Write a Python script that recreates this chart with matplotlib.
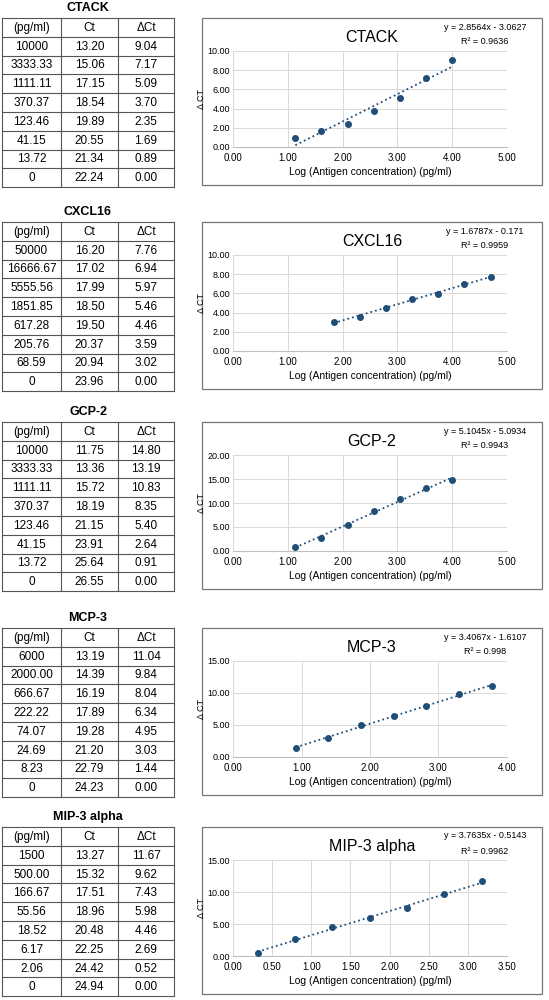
import numpy as np
import matplotlib
matplotlib.use("Agg")
import matplotlib.pyplot as plt
from matplotlib.patches import Rectangle

plt.rcParams['font.family'] = ['Liberation Sans Narrow', 'Liberation Sans', 'DejaVu Sans']

names = ["CTACK", "CXCL16", "GCP-2", "MCP-3", "MIP-3 alpha"]
conc = [
    ["10000", "3333.33", "1111.11", "370.37", "123.46", "41.15", "13.72", "0"],
    ["50000", "16666.67", "5555.56", "1851.85", "617.28", "205.76", "68.59", "0"],
    ["10000", "3333.33", "1111.11", "370.37", "123.46", "41.15", "13.72", "0"],
    ["6000", "2000.00", "666.67", "222.22", "74.07", "24.69", "8.23", "0"],
    ["1500", "500.00", "166.67", "55.56", "18.52", "6.17", "2.06", "0"],
]
ct = [
    [13.20, 15.06, 17.15, 18.54, 19.89, 20.55, 21.34, 22.24],
    [16.20, 17.02, 17.99, 18.50, 19.50, 20.37, 20.94, 23.96],
    [11.75, 13.36, 15.72, 18.19, 21.15, 23.91, 25.64, 26.55],
    [13.19, 14.39, 16.19, 17.89, 19.28, 21.20, 22.79, 24.23],
    [13.27, 15.32, 17.51, 18.96, 20.48, 22.25, 24.42, 24.94],
]
dct = [
    [9.04, 7.17, 5.09, 3.70, 2.35, 1.69, 0.89, 0.00],
    [7.76, 6.94, 5.97, 5.46, 4.46, 3.59, 3.02, 0.00],
    [14.80, 13.19, 10.83, 8.35, 5.40, 2.64, 0.91, 0.00],
    [11.04, 9.84, 8.04, 6.34, 4.95, 3.03, 1.44, 0.00],
    [11.67, 9.62, 7.43, 5.98, 4.46, 2.69, 0.52, 0.00],
]
slopes = [2.8564, 1.6787, 5.1045, 3.4067, 3.7635]
intercepts = [-3.0627, -0.171, -5.0934, -1.6107, -0.5143]
eqs = ["y = 2.8564x - 3.0627", "y = 1.6787x - 0.171", "y = 5.1045x - 5.0934",
       "y = 3.4067x - 1.6107", "y = 3.7635x - 0.5143"]
r2s = ["R² = 0.9636", "R² = 0.9959", "R² = 0.9943", "R² = 0.998", "R² = 0.9962"]
xlims = [(0, 5, 1), (0, 5, 1), (0, 5, 1), (0, 4, 1), (0, 3.5, 0.5)]
ylims = [(0, 10, 2), (0, 10, 2), (0, 20, 5), (0, 15, 5), (0, 15, 5)]

W, H = 549, 1000
fig = plt.figure(figsize=(W / 100, H / 100), dpi=100)
ov = fig.add_axes([0, 0, 1, 1])
ov.set_xlim(0, W); ov.set_ylim(H, 0); ov.axis('off')

offsets = [0, 204, 404, 610, 809]
colx = [2, 61, 118, 174]
col = '#1f4e79'
rh = 18.8
for i, off in enumerate(offsets):
    ov.text(88, off + 8, names[i], ha='center', va='center', fontsize=9, fontweight='bold')
    top = off + 18
    rows = [["(pg/ml)", "Ct", "ΔCt"]] + [[conc[i][k], f"{ct[i][k]:.2f}", f"{dct[i][k]:.2f}"] for k in range(8)]
    for r in range(10):
        ov.plot([colx[0], colx[-1]], [top + r * rh] * 2, color='#555555', lw=0.8)
    for c in colx:
        ov.plot([c, c], [top, top + 9 * rh], color='#555555', lw=0.8)
    for r, row in enumerate(rows):
        for c in range(3):
            ov.text((colx[c] + colx[c + 1]) / 2, top + r * rh + rh / 2 + 0.5, row[c],
                    ha='center', va='center', fontsize=8.5)
    ov.add_patch(Rectangle((202, off + 18), 340, 167, fill=False, edgecolor='#777777', lw=0.9))
    l, r_, t, b = 233, 507, off + 51, off + 147
    ax = fig.add_axes([l / W, 1 - b / H, (r_ - l) / W, (b - t) / H])
    x = np.array([np.log10(float(v)) for v in conc[i] if float(v) > 0])
    y = np.array([dct[i][k] for k in range(8) if float(conc[i][k]) > 0])
    ax.scatter(x, y, s=16, color=col, zorder=3)
    xf = np.array([x.min(), x.max()])
    ax.plot(xf, slopes[i] * xf + intercepts[i], ls=':', color=col, lw=1.3, zorder=2)
    x0, x1, xs = xlims[i]
    y0, y1, ys = ylims[i]
    ax.set_xlim(x0, x1); ax.set_ylim(y0, y1)
    ax.set_xticks(np.arange(x0, x1 + 1e-9, xs))
    ax.set_yticks(np.arange(y0, y1 + 1e-9, ys))
    ax.xaxis.set_major_formatter(matplotlib.ticker.FormatStrFormatter('%.2f'))
    ax.yaxis.set_major_formatter(matplotlib.ticker.FormatStrFormatter('%.2f'))
    ax.grid(True, color='#d9d9d9', lw=0.7)
    ax.set_axisbelow(True)
    for s in ['top', 'right', 'left']:
        ax.spines[s].set_visible(False)
    ax.spines['bottom'].set_color('#bfbfbf')
    ax.tick_params(axis='x', length=0, labelsize=7, pad=4)
    ax.tick_params(axis='y', length=0, labelsize=6.5, pad=2)
    ax.set_xlabel("Log (Antigen concentration) (pg/ml)", fontsize=7.5, labelpad=3)
    ax.set_ylabel("Δ CT", fontsize=6.5, labelpad=1)
    ov.text(372, off + 38, names[i], ha='center', va='center', fontsize=11.5)
    ov.text(485, off + 27, eqs[i], ha='center', va='center', fontsize=6.5)
    ov.text(485, off + 42, r2s[i], ha='center', va='center', fontsize=6.5)

fig.savefig("out.png", dpi=100)
